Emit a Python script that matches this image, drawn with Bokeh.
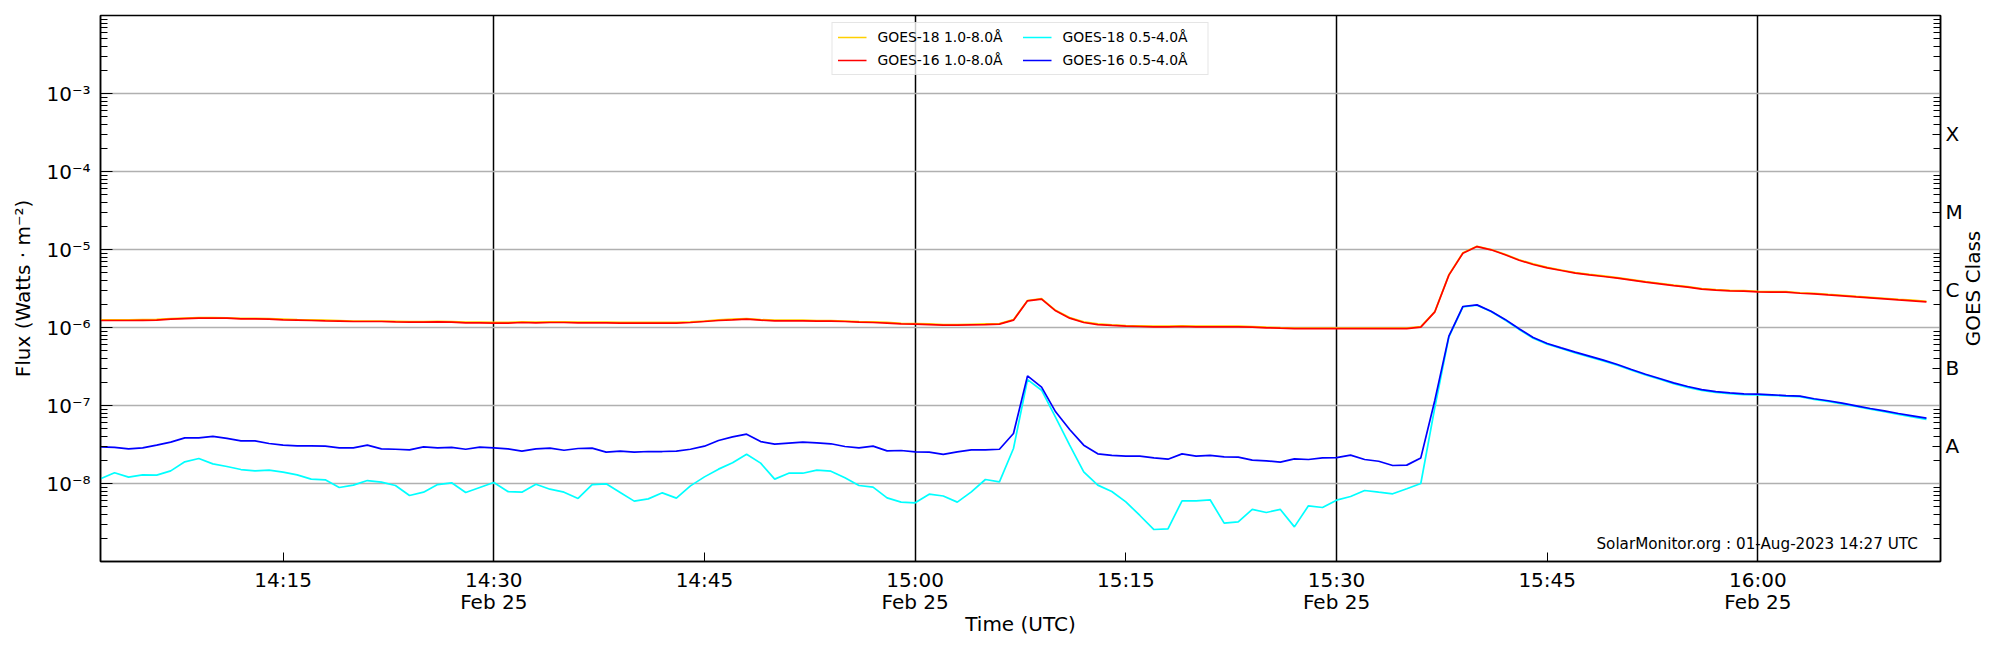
import math
import pandas as pd
from bokeh.plotting import figure
from bokeh.models import (ColumnDataSource, Range1d, LogAxis, FixedTicker,
                          CustomJSTickFormatter, Legend, LegendItem, Label)
from bokeh.embed import file_html
from bokeh.resources import INLINE

# ---------------- data (1-minute cadence, W/m^2) ----------------
start_time = "2023-02-25 14:02"

goes18_long = [
    1.25e-6, 1.25e-6, 1.25e-6, 1.26e-6, 1.27e-6, 1.30e-6, 1.32e-6, 1.34e-6, 1.34e-6, 1.33e-6,
    1.31e-6, 1.31e-6, 1.30e-6, 1.28e-6, 1.26e-6, 1.25e-6, 1.24e-6, 1.23e-6, 1.21e-6, 1.21e-6,
    1.21e-6, 1.20e-6, 1.19e-6, 1.19e-6, 1.20e-6, 1.19e-6, 1.17e-6, 1.17e-6, 1.16e-6, 1.16e-6,
    1.18e-6, 1.17e-6, 1.18e-6, 1.18e-6, 1.17e-6, 1.17e-6, 1.17e-6, 1.16e-6, 1.16e-6, 1.16e-6,
    1.16e-6, 1.16e-6, 1.18e-6, 1.21e-6, 1.25e-6, 1.28e-6, 1.30e-6, 1.26e-6, 1.24e-6, 1.24e-6,
    1.24e-6, 1.23e-6, 1.23e-6, 1.21e-6, 1.19e-6, 1.18e-6, 1.16e-6, 1.13e-6, 1.12e-6, 1.11e-6,
    1.09e-6, 1.09e-6, 1.10e-6, 1.11e-6, 1.12e-6, 1.26e-6, 2.22e-6, 2.34e-6, 1.66e-6, 1.34e-6,
    1.18e-6, 1.11e-6, 1.08e-6, 1.06e-6, 1.05e-6, 1.04e-6, 1.04e-6, 1.05e-6, 1.04e-6, 1.04e-6,
    1.04e-6, 1.04e-6, 1.03e-6, 1.01e-6, 9.95e-7, 9.86e-7, 9.86e-7, 9.86e-7, 9.86e-7, 9.86e-7,
    9.86e-7, 9.86e-7, 9.86e-7, 9.86e-7, 1.03e-6, 1.60e-6, 4.75e-6, 9.10e-6, 1.10e-5, 1.00e-5,
    8.68e-6, 7.40e-6, 6.53e-6, 5.91e-6, 5.46e-6, 5.06e-6, 4.80e-6, 4.58e-6, 4.36e-6, 4.11e-6,
    3.87e-6, 3.69e-6, 3.50e-6, 3.34e-6, 3.15e-6, 3.06e-6, 3.00e-6, 2.97e-6, 2.90e-6, 2.88e-6,
    2.88e-6, 2.79e-6, 2.74e-6, 2.66e-6, 2.59e-6, 2.51e-6, 2.44e-6, 2.37e-6, 2.30e-6, 2.24e-6,
    2.17e-6,
]

goes16_long = [
    1.23e-6, 1.23e-6, 1.23e-6, 1.236e-6, 1.242e-6, 1.279e-6, 1.303e-6, 1.318e-6, 1.318e-6, 1.318e-6,
    1.291e-6, 1.291e-6, 1.279e-6, 1.253e-6, 1.242e-6, 1.23e-6, 1.216e-6, 1.205e-6, 1.194e-6, 1.194e-6,
    1.194e-6, 1.18e-6, 1.169e-6, 1.169e-6, 1.18e-6, 1.169e-6, 1.148e-6, 1.148e-6, 1.138e-6, 1.138e-6,
    1.159e-6, 1.148e-6, 1.159e-6, 1.159e-6, 1.148e-6, 1.148e-6, 1.148e-6, 1.138e-6, 1.138e-6, 1.138e-6,
    1.138e-6, 1.138e-6, 1.159e-6, 1.194e-6, 1.23e-6, 1.253e-6, 1.279e-6, 1.242e-6, 1.216e-6, 1.216e-6,
    1.216e-6, 1.205e-6, 1.205e-6, 1.194e-6, 1.169e-6, 1.159e-6, 1.138e-6, 1.114e-6, 1.104e-6, 1.091e-6,
    1.072e-6, 1.072e-6, 1.081e-6, 1.091e-6, 1.104e-6, 1.242e-6, 2.198e-6, 2.307e-6, 1.637e-6, 1.318e-6,
    1.159e-6, 1.091e-6, 1.062e-6, 1.04e-6, 1.03e-6, 1.021e-6, 1.021e-6, 1.03e-6, 1.021e-6, 1.021e-6,
    1.021e-6, 1.021e-6, 1.009e-6, 9.91e-7, 9.79e-7, 9.7e-7, 9.7e-7, 9.7e-7, 9.7e-7, 9.7e-7,
    9.7e-7, 9.7e-7, 9.7e-7, 9.7e-7, 1.009e-6, 1.589e-6, 4.69e-6, 8.97e-6, 1.091e-5, 9.91e-6,
    8.55e-6, 7.29e-6, 6.43e-6, 5.82e-6, 5.38e-6, 4.98e-6, 4.73e-6, 4.51e-6, 4.29e-6, 4.05e-6,
    3.81e-6, 3.63e-6, 3.45e-6, 3.29e-6, 3.10e-6, 3.01e-6, 2.95e-6, 2.92e-6, 2.86e-6, 2.84e-6,
    2.84e-6, 2.75e-6, 2.70e-6, 2.62e-6, 2.55e-6, 2.47e-6, 2.40e-6, 2.33e-6, 2.26e-6, 2.20e-6,
    2.13e-6,
]

goes18_short = [
    1.148e-8, 1.371e-8, 1.205e-8, 1.291e-8, 1.279e-8, 1.452e-8, 1.897e-8, 2.094e-8, 1.786e-8, 1.652e-8,
    1.510e-8, 1.452e-8, 1.483e-8, 1.396e-8, 1.291e-8, 1.138e-8, 1.114e-8, 8.89e-9, 9.53e-9, 1.091e-8,
    1.040e-8, 9.42e-9, 7.02e-9, 7.74e-9, 9.70e-9, 1.021e-8, 7.67e-9, 8.89e-9, 1.030e-8, 7.89e-9,
    7.74e-9, 9.79e-9, 8.45e-9, 7.74e-9, 6.43e-9, 9.70e-9, 9.91e-9, 7.67e-9, 5.94e-9, 6.35e-9,
    7.59e-9, 6.49e-9, 9.33e-9, 1.216e-8, 1.528e-8, 1.841e-8, 2.377e-8, 1.824e-8, 1.138e-8, 1.355e-8,
    1.355e-8, 1.483e-8, 1.439e-8, 1.183e-8, 9.42e-9, 8.97e-9, 6.55e-9, 5.77e-9, 5.65e-9, 7.29e-9,
    6.92e-9, 5.77e-9, 7.82e-9, 1.125e-8, 1.050e-8, 2.81e-8, 2.15e-7, 1.57e-7, 7.02e-8, 3.10e-8,
    1.413e-8, 9.53e-9, 7.89e-9, 5.82e-9, 3.89e-9, 2.57e-9, 2.62e-9, 6.00e-9, 6.00e-9, 6.18e-9,
    3.10e-9, 3.23e-9, 4.65e-9, 4.25e-9, 4.65e-9, 2.78e-9, 5.18e-9, 4.92e-9, 6.11e-9, 6.81e-9,
    8.13e-9, 7.74e-9, 7.38e-9, 8.55e-9, 1.00e-8, 9.5e-8, 7.6e-7, 1.84e-6, 1.93e-6, 1.60e-6,
    1.25e-6, 9.45e-7, 7.30e-7, 6.12e-7, 5.38e-7, 4.73e-7, 4.20e-7, 3.73e-7, 3.28e-7, 2.83e-7,
    2.46e-7, 2.17e-7, 1.91e-7, 1.71e-7, 1.56e-7, 1.47e-7, 1.42e-7, 1.38e-7, 1.37e-7, 1.35e-7,
    1.32e-7, 1.30e-7, 1.20e-7, 1.13e-7, 1.05e-7, 9.70e-8, 8.95e-8, 8.33e-8, 7.66e-8, 7.12e-8,
    6.65e-8,
]

goes16_short = [
    2.95e-8, 2.90e-8, 2.78e-8, 2.86e-8, 3.10e-8, 3.39e-8, 3.85e-8, 3.85e-8, 4.01e-8, 3.78e-8,
    3.52e-8, 3.52e-8, 3.26e-8, 3.10e-8, 3.04e-8, 3.04e-8, 3.01e-8, 2.86e-8, 2.86e-8, 3.10e-8,
    2.78e-8, 2.75e-8, 2.70e-8, 2.95e-8, 2.86e-8, 2.90e-8, 2.75e-8, 2.92e-8, 2.86e-8, 2.78e-8,
    2.60e-8, 2.78e-8, 2.84e-8, 2.67e-8, 2.81e-8, 2.84e-8, 2.52e-8, 2.60e-8, 2.52e-8, 2.57e-8,
    2.57e-8, 2.60e-8, 2.75e-8, 3.01e-8, 3.56e-8, 3.96e-8, 4.29e-8, 3.45e-8, 3.19e-8, 3.29e-8,
    3.39e-8, 3.32e-8, 3.23e-8, 2.98e-8, 2.86e-8, 3.01e-8, 2.62e-8, 2.65e-8, 2.55e-8, 2.52e-8,
    2.36e-8, 2.55e-8, 2.70e-8, 2.70e-8, 2.75e-8, 4.38e-8, 2.40e-7, 1.72e-7, 8.30e-8, 4.92e-8,
    3.10e-8, 2.40e-8, 2.29e-8, 2.24e-8, 2.24e-8, 2.13e-8, 2.05e-8, 2.40e-8, 2.24e-8, 2.29e-8,
    2.20e-8, 2.18e-8, 1.99e-8, 1.95e-8, 1.88e-8, 2.07e-8, 2.03e-8, 2.13e-8, 2.15e-8, 2.31e-8,
    2.03e-8, 1.93e-8, 1.70e-8, 1.72e-8, 2.13e-8, 1.17e-7, 7.74e-7, 1.86e-6, 1.95e-6, 1.62e-6,
    1.27e-6, 9.62e-7, 7.45e-7, 6.24e-7, 5.48e-7, 4.83e-7, 4.29e-7, 3.81e-7, 3.36e-7, 2.90e-7,
    2.52e-7, 2.22e-7, 1.95e-7, 1.75e-7, 1.60e-7, 1.51e-7, 1.45e-7, 1.41e-7, 1.40e-7, 1.37e-7,
    1.34e-7, 1.32e-7, 1.22e-7, 1.15e-7, 1.07e-7, 9.91e-8, 9.16e-8, 8.55e-8, 7.89e-8, 7.38e-8,
    6.89e-8,
]

legend_labels = ["GOES-18 1.0-8.0Å", "GOES-16 1.0-8.0Å",
                 "GOES-18 0.5-4.0Å", "GOES-16 0.5-4.0Å"]
series_colors = ["#ffd000", "#ff0000", "#00ffff", "#0000ff"]

x_start = "2023-02-25 14:02"
x_end = "2023-02-25 16:13"
y_min, y_max = 1e-9, 1e-2

time_ticks = ["2023-02-25 14:15", "2023-02-25 14:30", "2023-02-25 14:45",
              "2023-02-25 15:00", "2023-02-25 15:15", "2023-02-25 15:30",
              "2023-02-25 15:45", "2023-02-25 16:00"]
time_tick_labels = ["14:15", "14:30\nFeb 25", "14:45", "15:00\nFeb 25",
                    "15:15", "15:30\nFeb 25", "15:45", "16:00\nFeb 25"]
day_lines = ["2023-02-25 14:30", "2023-02-25 15:00",
             "2023-02-25 15:30", "2023-02-25 16:00"]

flux_exponents = [-8, -7, -6, -5, -4, -3]
grid_exponents = [-8, -7, -6, -5, -4, -3, -2]
class_letters = ["A", "B", "C", "M", "X"]
class_levels = [3e-8, 3e-7, 3e-6, 3e-5, 3e-4]
class_axis_title = "GOES Class"

annotation_text = "SolarMonitor.org : 01-Aug-2023 14:27 UTC"
annotation_time = "2023-02-25 16:11:23"
annotation_flux = 1.7e-9

# ---------------- build ----------------
FONT = "DejaVu Sans"
TICK_PX = "20px"
W, H = 2000, 650
BL, BR, BT, BB = 100, 60, 15, 89

times = pd.date_range(start_time, periods=len(goes16_long), freq="1min")
src = ColumnDataSource(dict(time=times, g18l=goes18_long, g16l=goes16_long,
                            g18s=goes18_short, g16s=goes16_short))


def ms(s):
    return pd.Timestamp(s).value / 1e6


p = figure(width=W, height=H, x_axis_type="datetime", y_axis_type="log",
           x_range=Range1d(pd.Timestamp(x_start), pd.Timestamp(x_end)),
           y_range=Range1d(y_min, y_max),
           output_backend="svg", toolbar_location=None,
           min_border_left=BL, min_border_right=BR,
           min_border_top=BT, min_border_bottom=BB)
p.background_fill_color = "white"
p.border_fill_color = "white"
p.outline_line_color = "black"
p.outline_line_width = 1.5
p.outline_line_alpha = 1.0

# grids
p.xgrid.ticker = FixedTicker(ticks=[ms(t) for t in day_lines])
p.xgrid.grid_line_color = "black"
p.xgrid.grid_line_width = 1.5
p.ygrid.ticker = FixedTicker(ticks=[10.0 ** e for e in grid_exponents])
p.ygrid.grid_line_color = "#b0b0b0"
p.ygrid.grid_line_width = 1.3

minor_log = [k * 10.0 ** e for e in range(-9, -2) for k in range(2, 10)]

# x axis
xa = p.xaxis[0]
xa.ticker = FixedTicker(ticks=[ms(t) for t in time_ticks], minor_ticks=[])
xa.formatter = CustomJSTickFormatter(
    args=dict(tvals=[ms(t) for t in time_ticks], tlabels=time_tick_labels),
    code="""
for (let i = 0; i < tvals.length; i++) {
  if (Math.abs(tick - tvals[i]) < 1000) return tlabels[i];
}
return "";
""")
xa.axis_label = "Time (UTC)"

# left y axis
ya = p.yaxis[0]
ya.ticker = FixedTicker(ticks=[10.0 ** e for e in flux_exponents], minor_ticks=minor_log)
ya.formatter = CustomJSTickFormatter(code=r"""
const sup = {"-": "\u207b", "0": "\u2070", "1": "\u00b9", "2": "\u00b2", "3": "\u00b3",
             "4": "\u2074", "5": "\u2075", "6": "\u2076", "7": "\u2077", "8": "\u2078", "9": "\u2079"};
const e = Math.round(Math.log10(tick));
return "10" + String(e).split("").map(c => sup[c]).join("");
""")
ya.axis_label = "Flux (Watts · m⁻²)"

# right class axis (letters)
ra = LogAxis(ticker=FixedTicker(ticks=class_levels, minor_ticks=minor_log),
             formatter=CustomJSTickFormatter(
                 args=dict(cpos=class_levels, cnames=class_letters),
                 code="""
for (let i = 0; i < cpos.length; i++) {
  if (Math.abs(tick / cpos[i] - 1) < 1e-6) return cnames[i];
}
return "";
"""))
p.add_layout(ra, "right")

# outer right "axis" carrying the title text, rotated to read bottom-to-top.
# The rotated label starts at its tick, so shift the tick down by half the text length
frame_h = H - BT - BB
px_per_decade = frame_h / (math.log10(y_max) - math.log10(y_min))
title_len_px = 5.78 * 20          # approx. width of the title in DejaVu Sans 20px
title_log = 0.5 * (math.log10(y_min) + math.log10(y_max)) - 0.5 * title_len_px / px_per_decade
ta = LogAxis(ticker=FixedTicker(ticks=[10.0 ** title_log], minor_ticks=[]),
             formatter=CustomJSTickFormatter(args=dict(title=class_axis_title),
                                             code="return title;"),
             major_label_orientation=math.pi / 2)
p.add_layout(ta, "right")

for ax in [xa, ya, ra, ta]:
    ax.axis_line_color = "black"
    ax.axis_line_width = 1.5
    ax.major_tick_out = 0
    ax.minor_tick_out = 0
    ax.major_tick_line_color = "black"
    ax.minor_tick_line_color = "black"
    ax.major_label_text_font = FONT
    ax.major_label_text_font_size = TICK_PX
    ax.major_label_text_color = "black"
    ax.axis_label_text_font = FONT
    ax.axis_label_text_font_size = TICK_PX
    ax.axis_label_text_font_style = "normal"
    ax.axis_label_text_color = "black"

ta.axis_line_color = None
ta.major_tick_line_color = None
ta.minor_tick_line_color = None
ta.major_label_standoff = 8

xa.major_tick_in = 9
xa.major_label_standoff = 6
xa.major_label_text_line_height = 0.92
xa.axis_label_standoff = -5
ya.major_tick_in = 12
ya.minor_tick_in = 7
ya.major_label_standoff = 10
ya.axis_label_standoff = 8
ra.major_tick_in = 8
ra.minor_tick_in = 7
ra.major_label_standoff = 5

# lines
cols = ["g18l", "g16l", "g18s", "g16s"]
renderers = []
for c, col in zip(cols, series_colors):
    renderers.append(p.line("time", c, source=src, line_color=col, line_width=1.7))

legend = Legend(items=[LegendItem(label=legend_labels[i], renderers=[renderers[i]]) for i in range(4)],
                location="top_center", ncols=2)
legend.label_text_font = FONT
legend.label_text_font_size = "13.9px"
legend.label_text_color = "black"
legend.glyph_width = 29
legend.glyph_height = 18
legend.label_height = 18
legend.label_width = 140
legend.label_standoff = 11
legend.spacing = 5
legend.padding = 5
legend.margin = 7
legend.border_line_color = "#cccccc"
legend.border_line_width = 1
legend.background_fill_color = "white"
legend.background_fill_alpha = 0.8
p.add_layout(legend)

p.add_layout(Label(x=pd.Timestamp(annotation_time), y=annotation_flux, text=annotation_text,
                   text_align="right", text_baseline="alphabetic",
                   text_font=FONT, text_font_size="15.2px", text_color="black"))

open("out.html", "w").write(file_html(p, INLINE))
